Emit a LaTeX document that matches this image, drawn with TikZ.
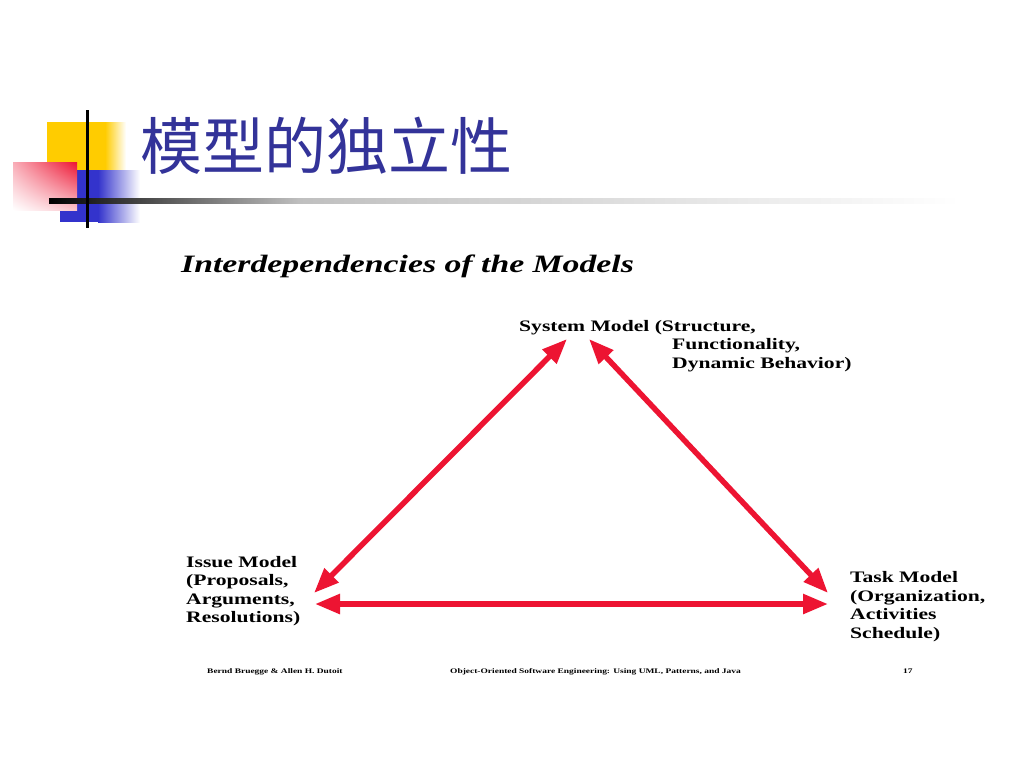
\documentclass[tikz,border=0pt]{standalone}
\usepackage{fontspec}
\usepackage{xcolor}
\usepackage{tikz}
\usetikzlibrary{arrows.meta,shadings}
\newfontfamily\figfont[FakeStretch=1.35]{Liberation Serif}
\newfontfamily\cjkfont{Noto Sans CJK SC}
\definecolor{titleblue}{RGB}{51,51,153}
\definecolor{arrowred}{RGB}{237,20,50}
\definecolor{logoyellow}{RGB}{255,204,0}
\definecolor{logoblue}{RGB}{51,51,204}
\begin{document}
\begin{tikzpicture}[x=1pt, y=-1pt,
  modeltext/.style={inner sep=0pt, anchor=base west, align=left, font=\figfont\bfseries\fontsize{16}{18.5}\selectfont},
  foottext/.style={inner sep=0pt, anchor=base west, font=\figfont\bfseries\fontsize{7}{8}\selectfont},
  linkarrow/.style={draw=arrowred, line width=5.5pt, {Triangle[length=25pt,width=19pt]}-{Triangle[length=25pt,width=19pt]}}]
\useasboundingbox (0,0) rectangle (1024,768);
\fill[white] (0,0) rectangle (1024,768);
\fill[logoyellow] (47,122) rectangle (105,170);
\shade[left color=logoyellow, right color=white] (105,122) rectangle (126,170);
\fill[logoblue] (60,170) rectangle (98,222);
\shade[left color=logoblue, right color=white] (98,170) rectangle (140,222);
\shade[upper left=arrowred!35, upper right=arrowred, lower left=white, lower right=arrowred!25] (13,162) rectangle (77,210);
\shade[left color=black, right color=gray!50] (49,198.5) rectangle (300,203.5);
\shade[left color=gray!50, right color=white] (300,198.5) rectangle (960,203.5);
\draw[line width=3pt] (87,110) -- (87,228);
\node[inner sep=0pt, anchor=west, text=titleblue, font=\cjkfont\fontsize{62}{62}\selectfont] at (140,146) (title) {模型的独立性};
\node[inner sep=0pt, anchor=base west, font=\figfont\bfseries\itshape\fontsize{25}{28}\selectfont] at (181,272) (heading) {Interdependencies of the Models};
\node[modeltext] at (519,331.5) (system) {System Model (Structure,};
\node[modeltext] at (672,368) (systemmore) {Functionality,\\Dynamic Behavior)};
\node[modeltext] at (186,622.5) (issue) {Issue Model\\(Proposals,\\Arguments,\\Resolutions)};
\node[modeltext] at (850,638) (task) {Task Model\\(Organization,\\Activities\\Schedule)};
\coordinate (systemL) at (567,339);
\coordinate (systemR) at (589,339);
\coordinate (issueT) at (314,593);
\coordinate (issueB) at (315,604);
\coordinate (taskT) at (828,593);
\coordinate (taskB) at (828,604);
\draw[linkarrow] (issueT) -- (systemL);
\draw[linkarrow] (systemR) -- (taskT);
\draw[linkarrow] (issueB) -- (taskB);
\node[foottext] at (207,673) (authors) {Bernd Bruegge \& Allen H. Dutoit};
\node[foottext] at (450,673) (book) {Object-Oriented Software Engineering: Using UML, Patterns, and Java};
\node[foottext] at (903,673) (page) {17};
\end{tikzpicture}
\end{document}
